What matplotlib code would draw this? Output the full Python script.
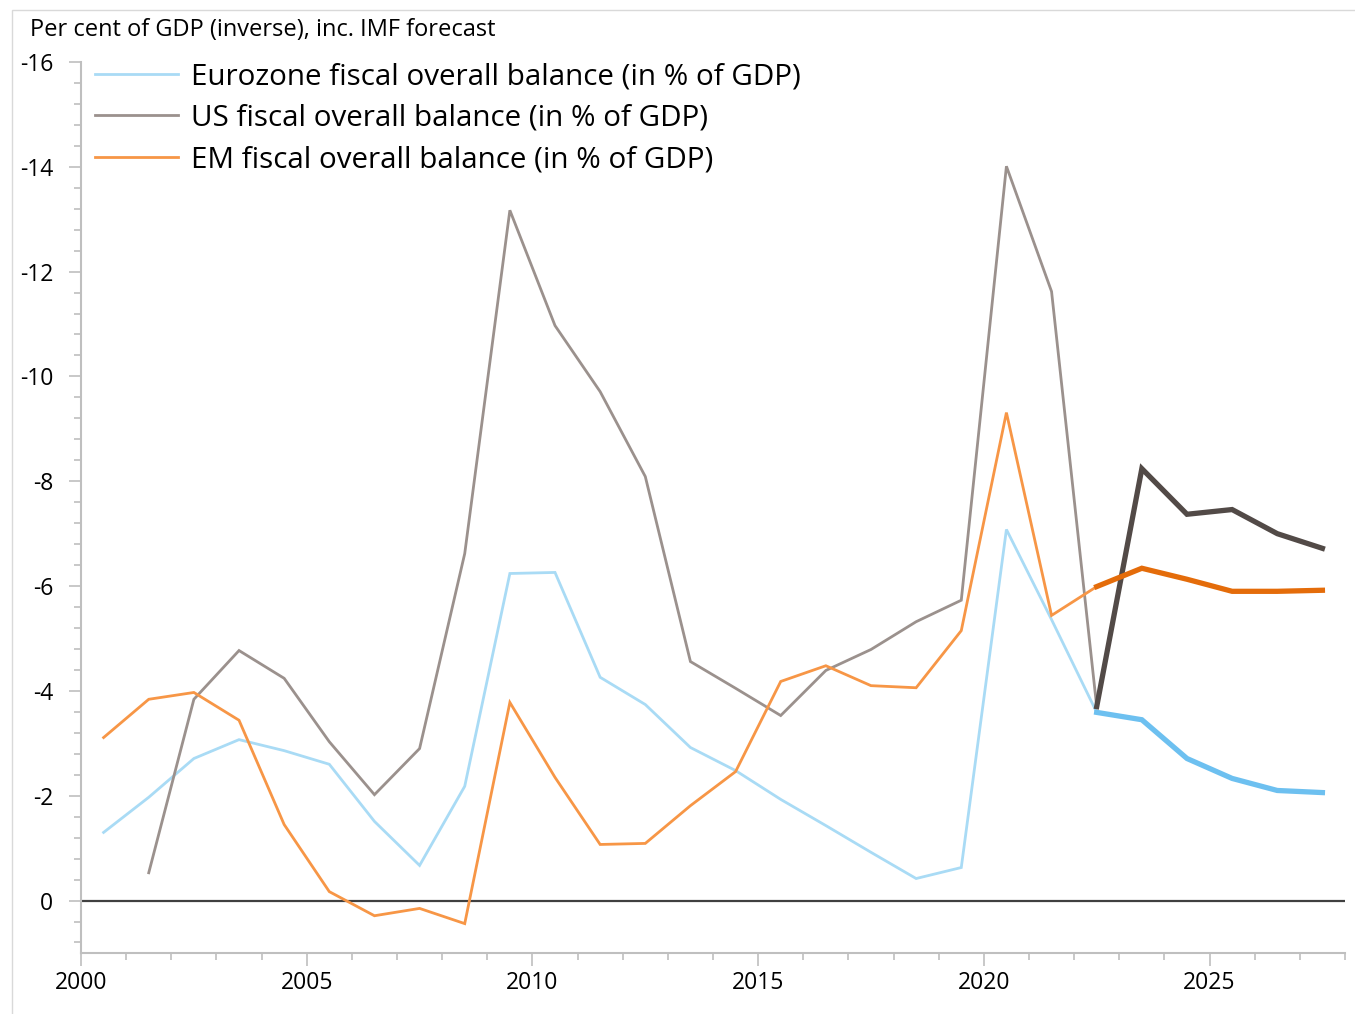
import matplotlib
matplotlib.use("Agg")
import matplotlib.pyplot as plt
from matplotlib.ticker import MultipleLocator
from matplotlib.lines import Line2D
from matplotlib.patches import Rectangle
import numpy as np

plt.rcParams['font.family'] = ['Open Sans', 'DejaVu Sans']

years = list(range(2000, 2028))
eurozone = [-1.30, -1.97, -2.71, -3.07, -2.86, -2.60, -1.51, -0.67, -2.18, -6.24,
            -6.26, -4.26, -3.74, -2.92, -2.48, -1.93, -1.43, -0.92, -0.42, -0.63,
            -7.08, -5.36, -3.59, -3.45, -2.71, -2.33, -2.10, -2.06]
us = [None, -0.53, -3.84, -4.77, -4.24, -3.03, -2.02, -2.90, -6.62, -13.17,
      -10.97, -9.71, -8.09, -4.56, -4.05, -3.53, -4.39, -4.79, -5.32, -5.73,
      -14.01, -11.62, -3.70, -8.24, -7.37, -7.46, -7.00, -6.72]
em = [-3.11, -3.84, -3.97, -3.44, -1.45, -0.17, 0.29, 0.15, 0.44, -3.78,
      -2.35, -1.07, -1.09, -1.81, -2.46, -4.18, -4.48, -4.10, -4.06, -5.15,
      -9.31, -5.44, -5.99, -6.34, -6.13, -5.90, -5.90, -5.92]
forecast_start = 2022

labels = ["Eurozone fiscal overall balance (in % of GDP)",
          "US fiscal overall balance (in % of GDP)",
          "EM fiscal overall balance (in % of GDP)"]
hist_colors = ["#A9DBF5", "#9B918D", "#F79646"]
fc_colors = ["#6DC0F0", "#524A47", "#E46C0A"]

fig = plt.figure(figsize=(13.55, 10.14), dpi=100)
fig.patches.append(Rectangle((0.009, -0.01), 1.2, 1.0, transform=fig.transFigure,
                             fill=False, edgecolor="#D9D9D9", linewidth=1.0))
ax = fig.add_axes([0.0598, 0.0602, 0.9328, 0.8787])

x = np.array(years, dtype=float) + 0.5
for series, hc, fcol, lab in zip([eurozone, us, em], hist_colors, fc_colors, labels):
    vals = np.array([np.nan if v is None else v for v in series], dtype=float)
    hist = np.array([y <= forecast_start for y in years])
    fc = np.array([y >= forecast_start for y in years])
    ax.plot(x[hist], vals[hist], color=hc, lw=2.0, label=lab, solid_joinstyle='miter')
    ax.plot(x[fc], vals[fc], color=fcol, lw=3.8, solid_joinstyle='miter')

ax.axhline(0, color="#404040", lw=1.6, zorder=1)

ax.set_xlim(2000, 2028)
ax.set_ylim(1, -16)
ax.yaxis.set_minor_locator(MultipleLocator(0.4))
ax.xaxis.set_major_locator(MultipleLocator(5))
ax.xaxis.set_minor_locator(MultipleLocator(1))
ax.set_yticks([-16, -14, -12, -10, -8, -6, -4, -2, 0])
ax.set_yticklabels(["-16", "-14", "-12", "-10", "-8", "-6", "-4", "-2", "0"])

for s in ["top", "right"]:
    ax.spines[s].set_visible(False)
for s in ["left", "bottom"]:
    ax.spines[s].set_color("#BFBFBF")
    ax.spines[s].set_linewidth(1.5)

ax.tick_params(axis='y', which='major', length=9, width=1.2, color="#BFBFBF",
               labelsize=16.5, pad=11)
ax.tick_params(axis='y', which='minor', length=5, width=1.2, color="#BFBFBF")
ax.tick_params(axis='x', which='major', length=9, width=1.2, color="#BFBFBF",
               labelsize=16.5, pad=4)
ax.tick_params(axis='x', which='minor', length=5, width=1.2, color="#BFBFBF")

fig.text(0.022, 0.970, "Per cent of GDP (inverse), inc. IMF forecast",
         fontsize=17, va='center', ha='left')

handles = [Line2D([], [], color=c, lw=2.0) for c in hist_colors]
leg = ax.legend(handles, labels, loc='upper left', bbox_to_anchor=(0.002, 1.013),
                frameon=False, fontsize=21.3, handlelength=2.8, handletextpad=0.42,
                labelspacing=0.42, borderaxespad=0.0)

fig.savefig("out.png", dpi=100)
